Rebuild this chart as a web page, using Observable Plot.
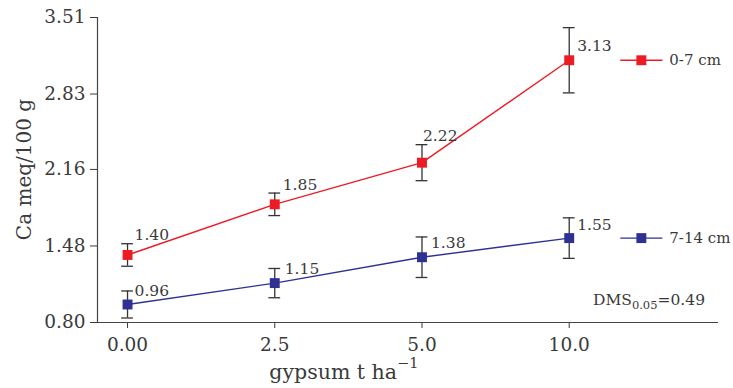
<!DOCTYPE html>
<html><head><meta charset="utf-8">
<script src="https://cdn.jsdelivr.net/npm/d3@7"></script>
<script src="https://cdn.jsdelivr.net/npm/@observablehq/plot@0.6"></script>
<style>body{margin:0;background:#fff;}</style>
</head><body><div id="chart"></div>
<script>
// ---- data ----
const categories = ["0.00", "2.5", "5.0", "10.0"];
const seriesNames = ["0-7 cm", "7-14 cm"];
const values0to7 = [1.40, 1.85, 2.22, 3.13];
const err0to7 = [0.10, 0.10, 0.16, 0.29];
const values7to14 = [0.96, 1.15, 1.38, 1.55];
const err7to14 = [0.12, 0.13, 0.18, 0.18];
const yTicks = [0.80, 1.48, 2.16, 2.83, 3.51];
const yLabel = "Ca meq/100 g";
const xLabel = "gypsum t ha";
const xLabelSup = "\u22121";
const dmsMain = "DMS", dmsSub = "0.05", dmsRest = "=0.49";

// ---- style / layout ----
const colors = ["#ed1c24", "#2e3192"];
const textColor = "#3a3a3a";
const font = "DejaVu Serif";
// label offsets (px) relative to each point
const labelOffsets = [[[7,-15],[8,-14],[1,-22],[8,-9]], [[7,-8],[10,-9],[9,-9],[8,-8]]];

const rows = [];
[values0to7, values7to14].forEach((vals, s) => {
  const errs = s === 0 ? err0to7 : err7to14;
  vals.forEach((v, i) => rows.push({series: seriesNames[s], s, i, value: v, err: errs[i]}));
});
const lastRows = rows.filter(d => d.i === categories.length - 1);

const xDomain = [-0.204, 4.014];
const yDomain = [yTicks[0], yTicks[yTicks.length - 1]];

const labelMarks = rows.map(d => Plot.text([d], {
  x: "i", y: "value", text: d => d.value.toFixed(2),
  dx: labelOffsets[d.s][d.i][0], dy: labelOffsets[d.s][d.i][1],
  textAnchor: "start", lineAnchor: "bottom", fontSize: 15.5, fill: textColor
}));

const plot = Plot.plot({
  width: 733, height: 388,
  marginLeft: 97, marginRight: 15, marginTop: 17, marginBottom: 66,
  style: {fontFamily: font, color: textColor, background: "#fff"},
  x: {domain: xDomain},
  y: {domain: yDomain},
  color: {domain: seriesNames, range: colors},
  marks: [
    Plot.axisY({ticks: yTicks, tickFormat: d => d.toFixed(2), tickSize: 7, tickPadding: 5, fontSize: 18.5, label: null}),
    Plot.axisX({ticks: [0, 1, 2, 3], tickFormat: i => categories[i], tickSize: 6, tickPadding: 9, fontSize: 18.5, label: null}),
    Plot.ruleY([yDomain[0]], {stroke: "#444", strokeWidth: 1.2}),
    Plot.ruleX([xDomain[0]], {stroke: "#444", strokeWidth: 1.2}),
    Plot.ruleX(rows, {x: "i", y1: d => d.value - d.err, y2: d => d.value + d.err, stroke: "#333", strokeWidth: 1.3}),
    Plot.ruleY(rows, {x1: d => d.i - 0.04, x2: d => d.i + 0.04, y: d => d.value + d.err, stroke: "#333", strokeWidth: 1.3}),
    Plot.ruleY(rows, {x1: d => d.i - 0.04, x2: d => d.i + 0.04, y: d => d.value - d.err, stroke: "#333", strokeWidth: 1.3}),
    Plot.line(rows, {x: "i", y: "value", z: "series", stroke: "series", strokeWidth: 1.4}),
    Plot.dot(rows, {x: "i", y: "value", symbol: "square", fill: "series", r: 5.6}),
    ...labelMarks,
    // legend next to the last point of each series
    Plot.link(lastRows, {x1: d => d.i + 0.347, x2: d => d.i + 0.633, y1: "value", y2: "value", stroke: "series", strokeWidth: 1.4}),
    Plot.dot(lastRows, {x: d => d.i + 0.49, y: "value", symbol: "square", fill: "series", r: 5.6}),
    Plot.text(lastRows, {x: d => d.i + 0.68, y: "value", text: "series", textAnchor: "start", fontSize: 15, fill: textColor})
  ]
});

const svg = d3.select(plot);
const xs = plot.scale("x"), ys = plot.scale("y");

// y axis title
svg.append("text")
  .attr("transform", `translate(31,${(ys.apply(yDomain[0]) + ys.apply(yDomain[1])) / 2}) rotate(-90)`)
  .attr("text-anchor", "middle").attr("font-size", 20).attr("fill", textColor)
  .text(yLabel);

// x axis title with superscript
const xt = svg.append("text")
  .attr("x", xs.apply(1.5) - 4).attr("y", ys.apply(yDomain[0]) + 57)
  .attr("text-anchor", "middle").attr("font-size", 20.5).attr("fill", textColor);
xt.append("tspan").text(xLabel);
xt.append("tspan").attr("dy", -11).attr("font-size", 14.5).text(xLabelSup);

// DMS annotation with subscript
const dt = svg.append("text")
  .attr("x", xs.apply(xDomain[1]) - 13).attr("y", ys.apply(yDomain[0]) - 17)
  .attr("text-anchor", "end").attr("font-size", 15.5).attr("fill", textColor);
dt.append("tspan").text(dmsMain);
dt.append("tspan").attr("dy", 4).attr("font-size", 11.5).text(dmsSub);
dt.append("tspan").attr("dy", -4).text(dmsRest);

svg.selectAll("text").attr("font-family", font);
document.getElementById("chart").appendChild(plot);
</script>
</body></html>
